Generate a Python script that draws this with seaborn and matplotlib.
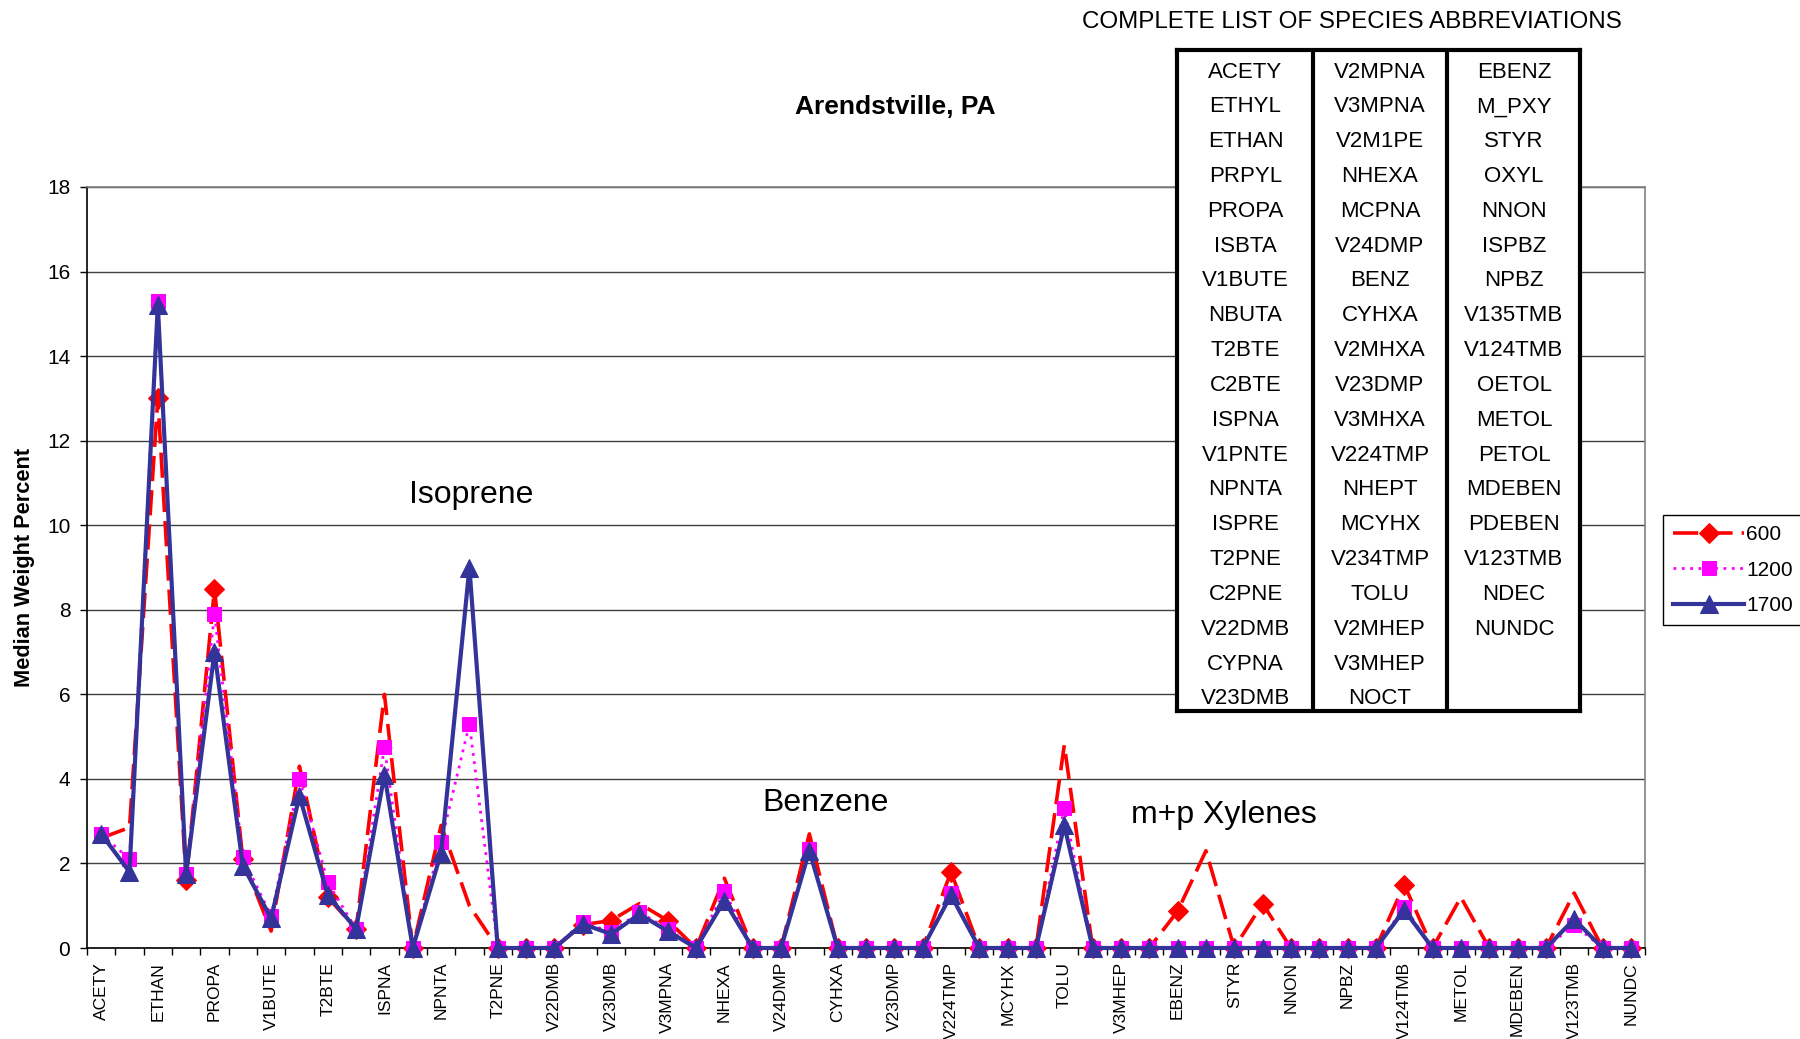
import numpy as np
import pandas as pd
import matplotlib
matplotlib.use("Agg")
import matplotlib.pyplot as plt
import seaborn as sns

plt.rcParams['font.family'] = ['Liberation Sans', 'DejaVu Sans']

species = ["ACETY", "ETHYL", "ETHAN", "PRPYL", "PROPA", "ISBTA", "V1BUTE", "NBUTA",
           "T2BTE", "C2BTE", "ISPNA", "V1PNTE", "NPNTA", "ISPRE", "T2PNE", "C2PNE",
           "V22DMB", "CYPNA", "V23DMB", "V2MPNA", "V3MPNA", "V2M1PE", "NHEXA", "MCPNA",
           "V24DMP", "BENZ", "CYHXA", "V2MHXA", "V23DMP", "V3MHXA", "V224TMP", "NHEPT",
           "MCYHX", "V234TMP", "TOLU", "V2MHEP", "V3MHEP", "NOCT", "EBENZ", "M_PXY",
           "STYR", "OXYL", "NNON", "ISPBZ", "NPBZ", "V135TMB", "V124TMB", "OETOL",
           "METOL", "PETOL", "MDEBEN", "PDEBEN", "V123TMB", "NDEC", "NUNDC"]

s600 = [2.6, 2.85, 13.0, 1.6, 8.5, 2.1, 0.4, 4.3, 1.2, 0.45,
        6.0, 0.0, 2.9, 1.0, 0.0, 0.0, 0.0, 0.55, 0.65, 1.05,
        0.65, 0.0, 1.65, 0.0, 0.0, 2.7, 0.0, 0.0, 0.0, 0.0,
        1.8, 0.0, 0.0, 0.0, 4.8, 0.0, 0.0, 0.0, 0.87, 2.3,
        0.0, 1.05, 0.0, 0.0, 0.0, 0.0, 1.5, 0.0, 1.2, 0.0,
        0.0, 0.0, 1.3, 0.0, 0.0]
s1200 = [2.7, 2.1, 15.3, 1.75, 7.9, 2.15, 0.75, 4.0, 1.55, 0.45,
         4.75, 0.0, 2.5, 5.3, 0.0, 0.0, 0.0, 0.62, 0.37, 0.85,
         0.45, 0.0, 1.35, 0.0, 0.0, 2.35, 0.0, 0.0, 0.0, 0.0,
         1.3, 0.0, 0.0, 0.0, 3.3, 0.0, 0.0, 0.0, 0.0, 0.0,
         0.0, 0.0, 0.0, 0.0, 0.0, 0.0, 0.97, 0.0, 0.0, 0.0,
         0.0, 0.0, 0.55, 0.0, 0.0]
s1700 = [2.7, 1.8, 15.2, 1.75, 7.0, 1.95, 0.7, 3.6, 1.25, 0.45,
         4.1, 0.0, 2.25, 9.0, 0.0, 0.0, 0.0, 0.57, 0.33, 0.8,
         0.4, 0.0, 1.12, 0.0, 0.0, 2.3, 0.0, 0.0, 0.0, 0.0,
         1.25, 0.0, 0.0, 0.0, 2.9, 0.0, 0.0, 0.0, 0.0, 0.0,
         0.0, 0.0, 0.0, 0.0, 0.0, 0.0, 0.9, 0.0, 0.0, 0.0,
         0.0, 0.0, 0.68, 0.0, 0.0]

series_names = ["600", "1200", "1700"]
annotations = ["Isoprene", "Benzene", "m+p Xylenes"]

table_cols = [species[:19], species[19:38], species[38:]]

df = pd.DataFrame({"pos": np.arange(len(species)), "600": s600, "1200": s1200, "1700": s1700})

# points where the 600 series shows no marker in the original
no_marker_600 = {0, 1, 6, 7, 10, 12, 13, 19, 22, 25, 34, 39, 48, 52}
marks600 = [i for i in range(len(species)) if i not in no_marker_600]

W, H = 1800, 1039
fig = plt.figure(figsize=(18, 10.39), dpi=100)
ax = fig.add_axes([87 / W, 1 - 948 / H, (1645 - 87) / W, (948 - 187) / H])

sns.lineplot(data=df, x="pos", y="600", ax=ax, color="#FF0000", lw=2.6,
             linestyle=(0, (7, 2.5)), marker="D", markersize=10,
             markeredgecolor="#FF0000", markevery=marks600, label="600",
             sort=False, clip_on=False, zorder=3)
sns.lineplot(data=df, x="pos", y="1200", ax=ax, color="#FF00FF", lw=2.0,
             linestyle=(0, (1, 2)), marker="s", markersize=10,
             markeredgecolor="#FF00FF", label="1200",
             sort=False, clip_on=False, zorder=4)
sns.lineplot(data=df, x="pos", y="1700", ax=ax, color="#333399", lw=3.0,
             linestyle="-", marker="^", markersize=13,
             markeredgecolor="#333399", label="1700",
             sort=False, clip_on=False, zorder=5)

ax.set_xlim(-0.5, len(species) - 0.5)
ax.set_ylim(0, 18)
ax.set_yticks(np.arange(0, 19, 2))
ax.tick_params(axis="y", labelsize=15, length=5, width=1, direction="out", pad=7)
ax.set_xticks(np.arange(0, len(species), 2))
ax.set_xticklabels(species[::2], rotation=90, fontsize=12.5)
ax.set_xticks(np.arange(-0.5, len(species), 1), minor=True)
ax.tick_params(axis="x", which="major", length=0, pad=10)
ax.tick_params(axis="x", which="minor", length=5, width=1, direction="out")
ax.yaxis.grid(True, color="#404040", lw=1.0)
ax.set_axisbelow(True)
for s in ["left", "bottom"]:
    ax.spines[s].set_color("black")
    ax.spines[s].set_linewidth(1.2)
for s in ["right", "top"]:
    ax.spines[s].set_color("#808080")
    ax.spines[s].set_linewidth(1.2)

ax.set_xlabel("")
ax.set_ylabel("Median Weight Percent", fontsize=15.7, fontweight="bold")
ax.yaxis.set_label_coords(-0.0335, 0.5)

ann_pos = [(13.05, 10.72), (25.58, 3.42), (39.64, 3.15)]
for txt, (xx, yy) in zip(annotations, ann_pos):
    ax.text(xx, yy, txt, ha="center", va="center", fontsize=23, zorder=6)

leg = ax.legend(loc="upper left", bbox_to_anchor=(1663 / W, 1 - 515 / H),
                bbox_transform=fig.transFigure, borderaxespad=0, fontsize=15,
                handlelength=3.4, handletextpad=0.1, labelspacing=0.78,
                borderpad=0.5, fancybox=False, framealpha=1, numpoints=1)
leg.get_frame().set_edgecolor("black")
leg.get_frame().set_linewidth(1.0)

fig.text(895 / W, 1 - 107 / H, "Arendstville, PA", ha="center", va="center",
         fontsize=19, fontweight="bold")
fig.text(1352 / W, 1 - 22 / H, "COMPLETE LIST OF SPECIES ABBREVIATIONS",
         ha="center", va="center", fontsize=17.4)

# abbreviation table
tx0, tx1, ty0, ty1 = 1177, 1580, 50, 711
tax = fig.add_axes([tx0 / W, 1 - ty1 / H, (tx1 - tx0) / W, (ty1 - ty0) / H], zorder=10)
tax.set_facecolor("white")
tax.set_xlim(0, tx1 - tx0)
tax.set_ylim(ty1 - ty0, 0)
tax.set_xticks([])
tax.set_yticks([])
for s in tax.spines.values():
    s.set_linewidth(3)
    s.set_color("black")
dividers = [1313 - tx0, 1447 - tx0]
for d in dividers:
    tax.axvline(d, color="black", lw=3)
col_centers = [1245.5 - tx0, 1380 - tx0, 1514 - tx0]
for cx, col in zip(col_centers, table_cols):
    for r, name in enumerate(col):
        tax.text(cx, 22 + r * 34.83, name, ha="center", va="center", fontsize=16)

fig.savefig("out.png", dpi=100)
